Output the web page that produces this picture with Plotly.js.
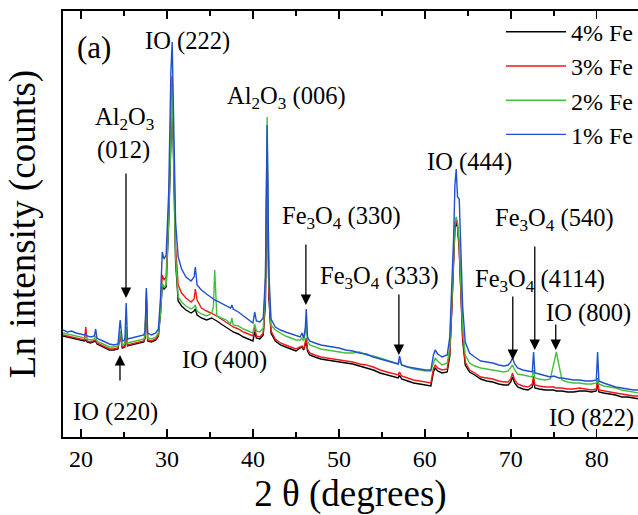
<!DOCTYPE html>
<html>
<head>
<meta charset="utf-8">
<script src="https://cdn.plot.ly/plotly-3.0.1.min.js"></script>
<style>html,body{margin:0;padding:0;background:#fff;}#chart{width:638px;height:515px;}</style>
</head>
<body>
<div id="chart"></div>
<script>
// 2θ (degrees)
const twoTheta = [
  17.9, 18.4, 18.9, 19.4, 19.9, 20.4, 20.55, 20.7, 21.1, 21.55, 21.7, 21.85, 22.3, 22.8, 23.3, 23.8,
  24.3, 24.55, 24.8, 25.1, 25.25, 25.4, 25.8, 26.3, 26.8, 27.3, 27.45, 27.6, 27.75, 28.2, 28.7, 29.0,
  29.25, 29.45, 29.65, 29.9, 30.2, 30.45, 30.6, 30.75, 31.0, 31.3, 31.7, 32.2, 32.8, 33.15, 33.3, 33.5,
  34.0, 34.6, 35.2, 35.4, 35.55, 35.8, 36.3, 36.9, 37.4, 37.55, 37.7, 38.3, 38.9, 39.5, 40.0, 40.2,
  40.4, 40.8, 41.2, 41.45, 41.65, 41.85, 42.1, 42.6, 43.2, 43.8, 44.4, 45.0,
  45.5, 45.7, 45.9, 46.1, 46.2, 46.35, 46.6, 47.2, 47.9, 48.6, 49.3, 50.0, 50.8,
  51.6, 52.4, 53.2, 54.0, 54.8, 55.6, 56.4, 56.9, 57.05, 57.3, 58.0, 58.7, 59.4, 60.1, 60.7,
  61.0, 61.2, 61.5, 62.0, 62.6, 62.9, 63.15, 63.35, 63.5, 63.65, 63.8, 64.0, 64.2, 64.4, 64.7, 65.2, 65.8,
  66.5, 67.2, 67.9, 68.6, 69.2, 69.7, 70.0, 70.2, 70.45, 70.8, 71.4, 72.0,
  72.5, 72.65, 72.8, 73.3, 74.0, 74.6, 75.0, 75.3, 75.6, 75.95, 76.6, 77.3, 78.0,
  78.7, 79.4, 79.95, 80.1, 80.25, 80.8, 81.5, 82.2, 82.9, 83.6, 84.3, 84.9
];
// Ln intensity (arbitrary units) per Fe content
const fe4 = [
  101,100,99,98,97,96,97,95,94,95,96,93,91,89,87,87,
  88,103,89,90,106,91,92,93,94,95,99,138,96,95,97,101,
  124,152,148,150,215,310,342,285,175,136,131,127,124,126,128,122,
  119,117,119,118,117,116,113,110,107,106,105,103,100,98,96,105,
  99,98,102,135,280,140,104,96,92,90,88,86,
  89,90,87,92,96,86,82,80,78,77,76,75,74,
  73,71,69,67,64,62,60,59,62,58,56,54,53,52,51,
  65,69,66,64,65,81,130,176,209,214,210,187,146,97,72,65,62,
  58,56,55,53,52,52,55,60,54,50,48,47,
  50,58,49,48,47,47,47,46,46,46,45,45,46,
  46,45,46,52,45,44,43,42,40,40,39,38
];
const fe3 = [
  102,101,100,99,98,97,110,96,95,96,97,94,92,90,88,88,
  89,104,90,91,108,92,93,94,95,96,100,140,97,96,98,102,
  130,162,157,160,230,330,361,300,190,152,144,139,135,138,148,137,
  129,126,124,123,122,121,118,115,112,111,110,108,105,103,101,110,
  101,100,104,140,290,145,106,98,94,92,90,88,
  90,91,88,94,99,88,84,82,80,79,78,77,76,
  75,73,72,70,67,65,63,62,65,61,59,57,56,55,54,
  68,72,69,67,68,84,135,180,212,217,212,190,150,100,75,67,64,
  60,59,58,56,55,55,58,64,57,53,51,50,
  53,61,52,51,50,50,50,49,49,49,48,48,49,
  48,47,48,59,47,46,45,44,43,42,41,41
];
const fe2 = [
  104,103,102,101,100,99,100,98,97,98,101,96,94,92,90,90,
  91,106,92,93,110,94,95,96,97,98,102,146,99,98,100,104,
  125,154,150,152,220,320,350,290,180,140,135,131,128,130,132,126,
  123,121,124,130,167,121,119,117,113,119,112,111,108,106,104,113,
  106,105,109,150,320,155,112,107,104,101,99,97,
  97,99,96,104,112,96,92,90,88,87,86,85,84,
  84,85,82,81,79,77,75,73,76,72,70,68,67,66,66,
  74,79,76,72,74,90,140,185,215,220,215,195,160,110,82,74,71,
  69,68,67,66,65,66,69,72,67,63,62,61,
  60,67,59,58,57,58,72,85,72,57,55,54,54,
  53,53,54,58,53,51,50,49,47,46,45,44
];
const fe1 = [
  107,105,106,104,103,102,103,101,100,101,108,99,97,95,93,92,
  93,117,96,97,134,98,99,100,101,102,106,149,104,102,104,108,
  140,185,178,182,245,365,395,330,215,180,168,160,156,160,170,152,
  147,143,139,138,137,136,134,131,129,132,128,125,121,117,114,125,
  116,115,119,160,312,165,118,110,107,105,103,101,
  100,104,99,110,128,100,96,94,92,91,90,89,87,
  86,84,83,80,78,76,74,73,81,72,70,69,68,67,67,
  82,87,83,80,82,100,150,200,252,268,240,238,185,130,95,84,80,
  76,75,74,72,71,72,75,79,73,69,67,66,
  65,85,64,63,61,60,61,60,59,59,58,57,57,
  56,56,57,85,56,54,52,50,49,48,47,47
];
const seriesNames = ["4% Fe", "3% Fe", "2% Fe", "1% Fe"];
const seriesColors = ["#000000", "#f01818", "#44c040", "#2050d0"];

const seriesData = [fe4, fe3, fe2, fe1];
const traces = seriesData.map((ys, i) => ({
  x: twoTheta, y: ys, type: "scatter", mode: "lines",
  name: seriesNames[i], legendgroup: "g" + i,
  line: {color: seriesColors[i], width: 1.4}
}));

const F = "Liberation Serif, Times New Roman, serif";
function txt(x, y, t, size) {
  return {x: x, y: y, xref: "x", yref: "y", text: t, showarrow: false,
    font: {family: F, size: size || 24.5, color: "#000"}, xanchor: "center", yanchor: "middle"};
}
function arr(x, yTip, yTail) {
  return {x: x, y: yTip, ax: x, ay: yTail, xref: "x", yref: "y", axref: "x", ayref: "y",
    text: "", showarrow: true, arrowhead: 2, arrowsize: 1.6, arrowwidth: 1.3, arrowcolor: "#000"};
}

const annotations = [
  txt(21.51, 390, "(a)", 31),
  txt(32.33, 396, "IO (222)"),
  txt(25.0, 319, "Al<sub>2</sub>O<sub>3</sub>"),
  txt(24.9, 287, "(012)"),
  txt(43.95, 340, "Al<sub>2</sub>O<sub>3</sub> (006)"),
  txt(65.23, 275, "IO (444)"),
  txt(50.35, 220, "Fe<sub>3</sub>O<sub>4</sub> (330)"),
  txt(75.12, 218, "Fe<sub>3</sub>O<sub>4</sub> (540)"),
  txt(54.77, 160, "Fe<sub>3</sub>O<sub>4</sub> (333)"),
  txt(73.37, 157, "Fe<sub>3</sub>O<sub>4</sub> (4114)"),
  txt(79.07, 124, "IO (800)"),
  txt(79.42, 19, "IO (822)"),
  txt(36.74, 77, "IO (400)"),
  txt(23.95, 25, "IO (220)"),
  arr(25.23, 139, 265),
  arr(24.53, 82, 55),
  arr(46.16, 132, 194),
  arr(56.98, 82, 144),
  arr(70.23, 77, 142),
  arr(72.79, 87, 192),
  arr(75.23, 87, 114)
];

const layout = {
  width: 638, height: 515,
  margin: {l: 63, r: 0, t: 11, b: 78},
  paper_bgcolor: "#fff", plot_bgcolor: "#fff",
  font: {family: F, color: "#000"},
  showlegend: true,
  legend: {x: 1, xanchor: "right", y: 1.003, yanchor: "top", bgcolor: "rgba(0,0,0,0)",
    font: {family: F, size: 24, color: "#000"}, tracegroupgap: 0, itemwidth: 60, traceorder: "grouped"},
  xaxis: {
    range: [17.9, 84.8], showgrid: false, zeroline: false,
    showline: true, linecolor: "#000", linewidth: 1.6, mirror: "ticks",
    ticks: "inside", ticklen: 8, tickwidth: 1.5, tickcolor: "#000",
    dtick: 10, tick0: 0,
    minor: {dtick: 5, ticks: "inside", ticklen: 5, tickwidth: 1.5, tickcolor: "#000"},
    tickfont: {family: F, size: 24, color: "#000"},
    title: {text: "2 θ (degrees)", font: {family: F, size: 37, color: "#000"}, standoff: 19}
  },
  yaxis: {
    range: [0, 426], showgrid: false, zeroline: false,
    showline: true, linecolor: "#000", linewidth: 1.6, mirror: false,
    ticks: "", showticklabels: false,
    title: {text: "Ln intensity (counts)", font: {family: F, size: 37, color: "#000"}, standoff: 14}
  },
  annotations: annotations
};

Plotly.newPlot("chart", traces, layout, {displayModeBar: false, staticPlot: true});
</script>
</body>
</html>
